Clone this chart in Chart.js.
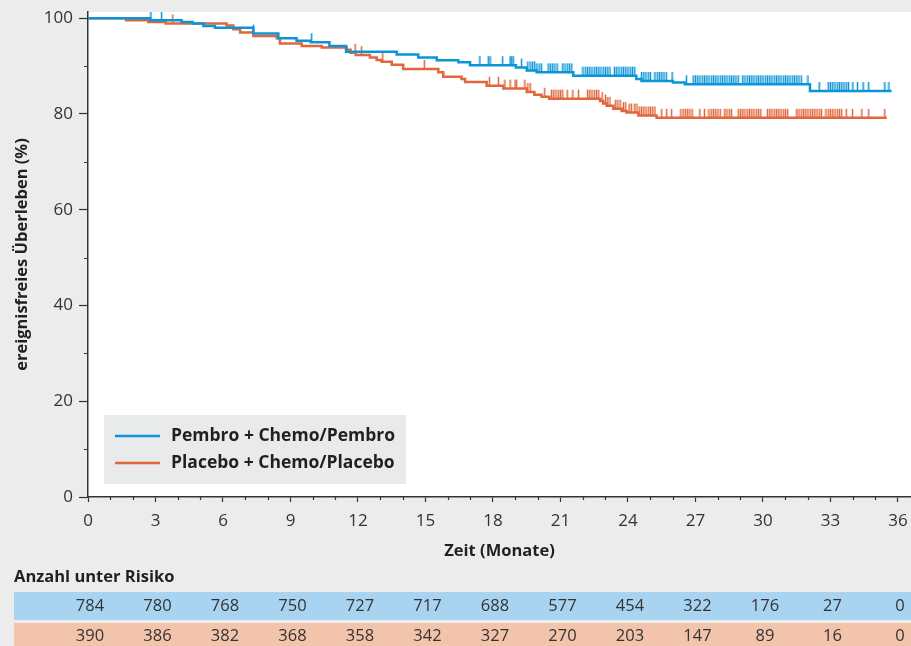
<!DOCTYPE html>
<html>
<head>
<meta charset="utf-8">
<script src="https://cdn.jsdelivr.net/npm/chart.js@4"></script>
<style>
  html, body { margin: 0; padding: 0; background: #ebeceb; }
  #wrap { width: 911px; height: 646px; position: relative; }
</style>
</head>
<body>
<div id="wrap"><canvas id="km" width="911" height="646"></canvas></div>
<script>
// KM-Kurven: Zeitpunkte (Monate) und ereignisfreies Überleben (%)
let pembroTimes = [0, 2.76, 4.16, 4.65, 5.13, 5.64, 7.35, 8.46, 9.27, 9.9, 10.73, 11.47, 13.72, 14.68, 15.5, 16.46, 16.98, 19.02, 19.5, 19.94, 21.57, 24.37, 24.6, 26.0, 26.53, 32.09, 35.72];
let pembroSurv = [100, 99.6, 99.2, 98.9, 98.4, 98.0, 96.8, 95.8, 95.3, 95.0, 94.2, 93.0, 92.4, 91.8, 91.2, 90.8, 90.2, 89.7, 89.1, 88.7, 88.0, 87.3, 86.9, 86.6, 86.2, 84.8, 84.8];

let placeboTimes = [0, 1.69, 2.68, 3.45, 6.16, 6.46, 6.76, 7.35, 8.39, 8.53, 9.5, 10.39, 11.5, 11.67, 11.9, 12.53, 12.83, 13.05, 13.5, 14.01, 15.57, 15.79, 16.6, 16.76, 17.72, 18.46, 19.5, 19.84, 20.16, 20.5, 22.76, 22.9, 23.05, 23.35, 23.72, 23.94, 24.46, 25.27, 35.5];
let placeboSurv = [100, 99.6, 99.2, 98.9, 98.5, 97.7, 97.0, 96.3, 95.8, 94.7, 94.2, 93.9, 93.4, 92.8, 92.3, 91.8, 91.3, 90.9, 90.3, 89.4, 88.7, 87.8, 87.3, 86.7, 85.9, 85.3, 84.6, 84.0, 83.6, 83.2, 82.7, 82.2, 81.7, 81.1, 80.6, 80.3, 79.7, 79.2, 79.2];

// Zensierungen (Monate)
let pembroCensored = [2.8, 3.27, 7.35, 9.94, 17.42, 17.79, 17.87, 18.43, 18.76, 18.83, 18.9, 19.27,
  19.55, 19.65, 19.75, 19.85, 19.95, 20.05, 20.15, 20.45, 20.55, 20.65, 20.75, 20.85,
  21.1, 21.2, 21.3, 21.4, 21.5, 22.0, 22.1, 22.2, 22.3, 22.4, 22.5, 22.6, 22.7, 22.8, 22.9, 23.0, 23.1, 23.2,
  23.4, 23.5, 23.6, 23.7, 23.8, 23.9, 24.0, 24.1, 24.2, 24.3, 24.6, 24.7, 24.8, 24.9, 25.0,
  25.2, 25.3, 25.4, 25.5, 25.6, 25.7, 25.96, 26.6, 26.9, 27.0, 27.1, 27.2,
  27.3, 27.4, 27.5, 27.6, 27.7, 27.8, 27.9, 28.0, 28.1, 28.2, 28.3, 28.4, 28.5, 28.6, 28.7, 28.8, 28.9,
  29.1, 29.2, 29.3, 29.4, 29.5, 29.6, 29.7, 29.8, 29.9, 30.0, 30.1, 30.2, 30.3, 30.4, 30.5, 30.6, 30.7,
  30.8, 30.9, 31.0, 31.1, 31.2, 31.3, 31.4, 31.5, 31.6, 31.7, 32.0, 32.5,
  32.9, 33.0, 33.1, 33.2, 33.3, 33.4, 33.5, 33.6, 33.7, 33.8, 34.0, 34.2, 34.45, 34.7, 35.42, 35.6];

let placeboCensored = [3.77, 11.87, 12.16, 13.1, 14.95, 17.84, 18.24, 18.53, 18.76, 18.98, 19.05, 19.42,
  19.55, 19.65, 20.3, 20.6, 20.7, 20.8, 20.9, 21.0, 21.1, 21.3, 21.55, 21.8,
  22.2, 22.3, 22.4, 22.5, 22.6, 22.7, 22.85, 23.0, 23.1, 23.2, 23.45, 23.55, 23.65, 23.8, 23.9,
  24.05, 24.15, 24.3, 24.4, 24.5, 24.6, 24.7, 24.8, 24.9, 25.0, 25.1, 25.2, 25.5, 25.72, 25.94,
  26.35, 26.45, 26.55, 26.65, 26.75, 26.85, 27.2, 27.4, 27.6, 27.7, 27.8, 27.9, 28.0, 28.1,
  28.3, 28.4, 28.5, 28.6, 28.9, 29.0, 29.1, 29.2, 29.3, 29.4, 29.5, 29.6, 29.7, 29.8, 29.9,
  30.2, 30.3, 30.4, 30.5, 30.6, 30.7, 30.8, 30.9, 31.0, 31.1, 31.5, 31.6, 31.7, 31.8, 31.9, 32.0,
  32.1, 32.2, 32.3, 32.4, 32.5, 32.6, 32.8, 32.9, 33.0, 33.1, 33.2, 33.3, 33.4, 33.5,
  33.7, 33.98, 34.4, 34.7, 35.42];

// Anzahl unter Risiko
let riskTimes = [0, 3, 6, 9, 12, 15, 18, 21, 24, 27, 30, 33, 36];
let pembroRisk = [784, 780, 768, 750, 727, 717, 688, 577, 454, 322, 176, 27, 0];
let placeboRisk = [390, 386, 382, 368, 358, 342, 327, 270, 203, 147, 89, 16, 0];

let seriesLabels = ['Pembro + Chemo/Pembro', 'Placebo + Chemo/Placebo'];
let xTitle = 'Zeit (Monate)';
let yTitle = 'ereignisfreies Überleben (%)';
let riskTitle = 'Anzahl unter Risiko';

const BLUE = '#0996d9';
const ORANGE = '#e2653c';
const FONT = '"Open Sans", "DejaVu Sans", sans-serif';

function toPoints(times, surv) {
  return times.map((t, i) => ({ x: t, y: surv[i] }));
}

// Wert der Stufenkurve zum Zeitpunkt t
function survAt(times, surv, t) {
  let v = surv[0];
  for (let i = 0; i < times.length; i++) {
    if (times[i] <= t) v = surv[i];
  }
  return v;
}

function censorMark(color) {
  const c = document.createElement('canvas');
  c.width = 3; c.height = 20;
  const g = c.getContext('2d');
  g.strokeStyle = color;
  g.lineWidth = 1.5;
  g.beginPath();
  g.moveTo(1.5, 1);
  g.lineTo(1.5, 10);
  g.stroke();
  return c;
}

const bgPlugin = {
  id: 'bg',
  beforeDraw(chart) {
    const { ctx, chartArea: a } = chart;
    ctx.save();
    ctx.fillStyle = '#ffffff';
    ctx.fillRect(a.left, a.top, a.right - a.left, a.bottom - a.top);
    ctx.restore();
  }
};

const minorTicks = {
  id: 'minorTicks',
  afterDraw(chart) {
    const { ctx, chartArea: a, scales: { x, y } } = chart;
    ctx.save();
    ctx.strokeStyle = '#333';
    ctx.lineWidth = 1.2;
    ctx.beginPath();
    for (let v = 10; v < 100; v += 20) {
      const py = Math.round(y.getPixelForValue(v)) + 0.5;
      ctx.moveTo(a.left - 4, py); ctx.lineTo(a.left, py);
    }
    for (let m = 1; m <= 36; m++) {
      if (m % 3 === 0) continue;
      const px = Math.round(x.getPixelForValue(m)) + 0.5;
      ctx.moveTo(px, a.bottom); ctx.lineTo(px, a.bottom + 3);
    }
    ctx.stroke();
    ctx.restore();
  }
};

const legendBox = {
  id: 'legendBox',
  afterDatasetsDraw(chart) {
    const { ctx } = chart;
    ctx.save();
    ctx.fillStyle = '#e9eaea';
    ctx.fillRect(104, 415, 302, 69);
    const colors = [BLUE, ORANGE];
    ctx.font = 'bold 17.5px ' + FONT;
    ctx.textBaseline = 'middle';
    ctx.fillStyle = '#231f20';
    seriesLabels.forEach((lab, i) => {
      const yy = 436 + i * 27;
      ctx.strokeStyle = colors[i];
      ctx.lineWidth = 2.5;
      ctx.beginPath();
      ctx.moveTo(115, yy); ctx.lineTo(160, yy);
      ctx.stroke();
      ctx.fillText(lab, 171, yy);
    });
    ctx.restore();
  }
};

const riskTable = {
  id: 'riskTable',
  afterDraw(chart) {
    const { ctx, scales: { x } } = chart;
    ctx.save();
    ctx.fillStyle = '#231f20';
    ctx.font = 'bold 16.5px ' + FONT;
    ctx.textBaseline = 'middle';
    ctx.textAlign = 'left';
    ctx.fillText(riskTitle, 14, 577);
    ctx.fillStyle = '#a9d4f1';
    ctx.fillRect(14, 592, 897, 28);
    ctx.fillStyle = '#f3c4ac';
    ctx.fillRect(14, 623, 897, 23);
    ctx.font = '16.5px ' + FONT;
    ctx.textAlign = 'center';
    ctx.fillStyle = '#333';
    riskTimes.forEach((t, i) => {
      const px = x.getPixelForValue(t) + 2;
      ctx.fillText(String(pembroRisk[i]), px, 606);
      ctx.fillText(String(placeboRisk[i]), px, 636);
    });
    ctx.restore();
  }
};

const ctx = document.getElementById('km').getContext('2d');
new Chart(ctx, {
  type: 'scatter',
  data: {
    datasets: [
      {
        label: seriesLabels[0],
        data: toPoints(pembroTimes, pembroSurv),
        showLine: true, stepped: true,
        borderColor: BLUE, borderWidth: 2.5,
        pointRadius: 0
      },
      {
        label: seriesLabels[0] + ' zensiert',
        data: pembroCensored.map(t => ({ x: t, y: survAt(pembroTimes, pembroSurv, t) })),
        showLine: false,
        pointStyle: censorMark(BLUE)
      },
      {
        label: seriesLabels[1],
        data: toPoints(placeboTimes, placeboSurv),
        showLine: true, stepped: true,
        borderColor: ORANGE, borderWidth: 2.5,
        pointRadius: 0
      },
      {
        label: seriesLabels[1] + ' zensiert',
        data: placeboCensored.map(t => ({ x: t, y: survAt(placeboTimes, placeboSurv, t) })),
        showLine: false,
        pointStyle: censorMark(ORANGE)
      }
    ]
  },
  options: {
    responsive: false,
    animation: false,
    devicePixelRatio: 1,
    layout: { autoPadding: false, padding: { top: 12, right: 0, bottom: 85, left: 0 } },
    plugins: { legend: { display: false }, tooltip: { enabled: false } },
    scales: {
      x: {
        type: 'linear', bounds: 'data', min: 0, max: 36.58,
        ticks: { stepSize: 3, includeBounds: false, color: '#333', padding: 11,
                 font: { family: FONT, size: 17, lineHeight: 1 } },
        grid: { drawOnChartArea: false, tickLength: 5, tickColor: '#333', tickWidth: 1.2 },
        border: { color: '#333', width: 1.5 },
        title: { display: true, text: xTitle, color: '#231f20', padding: 0,
                 font: { family: FONT, size: 16.5, weight: 'bold' } },
        afterFit(s) { s.height = 64; s.paddingLeft = 0; s.paddingRight = 0; }
      },
      y: {
        type: 'linear', bounds: 'data', min: 0, max: 101.3,
        ticks: { stepSize: 20, includeBounds: false, color: '#333', padding: 6,
                 font: { family: FONT, size: 17, lineHeight: 1 } },
        grid: { drawOnChartArea: false, tickLength: 9, tickColor: '#333', tickWidth: 1.2 },
        border: { color: '#333', width: 1.5 },
        title: { display: true, text: yTitle, color: '#231f20', padding: { top: 12, bottom: 0 },
                 font: { family: FONT, size: 16.5, weight: 'bold' } },
        afterFit(s) { s.width = 88; s.paddingTop = 0; s.paddingBottom = 0; }
      }
    }
  },
  plugins: [bgPlugin, minorTicks, legendBox, riskTable]
});
</script>
</body>
</html>
